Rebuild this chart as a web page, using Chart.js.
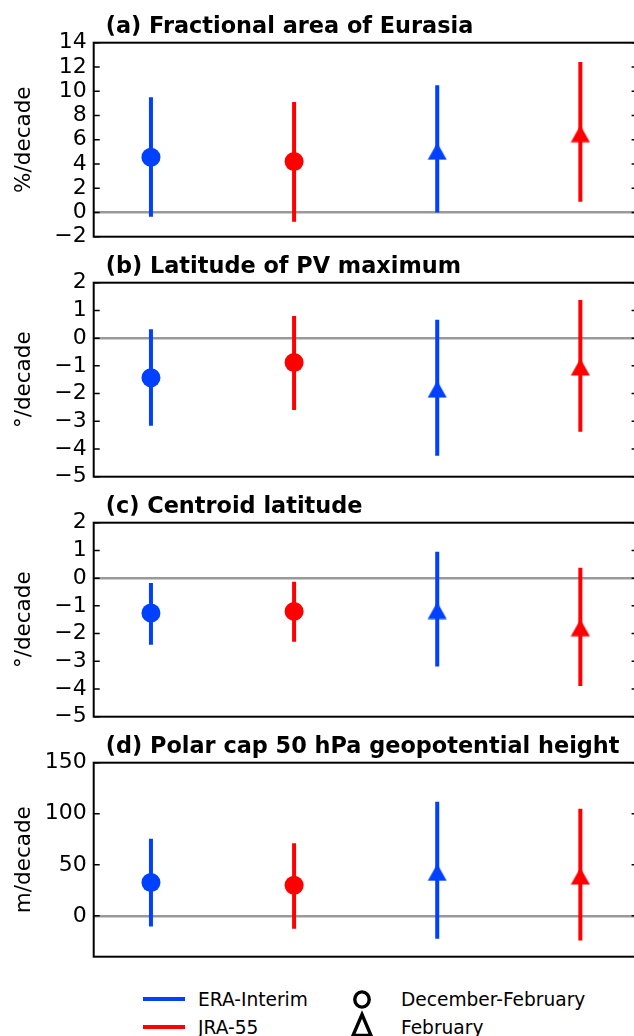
<!DOCTYPE html>
<html>
<head>
<meta charset="utf-8">
<script src="https://cdn.jsdelivr.net/npm/chart.js@4.4.1/dist/chart.umd.min.js"></script>
<style>
html,body{margin:0;padding:0;background:#fff;}
body{width:634px;height:1036px;overflow:hidden;position:relative;font-family:"DejaVu Sans",sans-serif;}
.panel{position:absolute;left:0;width:640px;height:262px;}
.lg{position:absolute;font-size:18.6px;line-height:18.6px;color:#000;white-space:nowrap;}
.sw{position:absolute;height:4px;}
svg{position:absolute;overflow:visible;}
</style>
</head>
<body>
<div class="panel" style="top:0px"><canvas id="c0" width="640" height="262"></canvas></div>
<div class="panel" style="top:240px"><canvas id="c1" width="640" height="262"></canvas></div>
<div class="panel" style="top:480px"><canvas id="c2" width="640" height="262"></canvas></div>
<div class="panel" style="top:720px"><canvas id="c3" width="640" height="262"></canvas></div>
<div id="legend"></div>
<script>
// ---- data ----
const categories = ['ERA-Interim DJF', 'JRA-55 DJF', 'ERA-Interim Feb', 'JRA-55 Feb'];
const seriesNames = ['ERA-Interim', 'JRA-55'];
const periodNames = ['December-February', 'February'];
const panelTitles = ['(a) Fractional area of Eurasia', '(b) Latitude of PV maximum', '(c) Centroid latitude', '(d) Polar cap 50 hPa geopotential height'];
const yLabels = ['%/decade', '\u00B0/decade', '\u00B0/decade', 'm/decade'];

const areaTrend = [4.55, 4.2, 5.05, 6.5];
const areaLow   = [-0.35, -0.77, 0.0, 0.88];
const areaHigh  = [9.5, 9.1, 10.5, 12.4];
const areaTicks = [-2, 0, 2, 4, 6, 8, 10, 12, 14];

const pvLatTrend = [-1.43, -0.88, -1.84, -1.04];
const pvLatLow   = [-3.16, -2.59, -4.24, -3.38];
const pvLatHigh  = [0.32, 0.80, 0.66, 1.38];
const pvLatTicks = [-5, -4, -3, -2, -1, 0, 1, 2];

const centroidTrend = [-1.26, -1.2, -1.17, -1.79];
const centroidLow   = [-2.40, -2.30, -3.19, -3.89];
const centroidHigh  = [-0.18, -0.13, 0.95, 0.37];
const centroidTicks = [-5, -4, -3, -2, -1, 0, 1, 2];

const heightTrend = [32.6, 30.0, 42.6, 39.0];
const heightLow   = [-10.4, -12.7, -22.5, -24.2];
const heightHigh  = [75.4, 71.2, 111.7, 104.8];
const heightTicks = [0, 50, 100, 150];

const yMin = [-2, -5, -5, -40];
const yMax = [14, 2, 2, 150];

// ---- styles ----
const BLUE = '#0040ff', RED = '#ff0000';
const pointColors = [BLUE, RED, BLUE, RED];
const markerKind = ['circle', 'circle', 'triangle', 'triangle'];

function triCanvas(color) {
  const c = document.createElement('canvas');
  c.width = 20; c.height = 18;
  const g = c.getContext('2d');
  g.fillStyle = color;
  g.beginPath();
  g.moveTo(10, 0.5); g.lineTo(19.5, 17.5); g.lineTo(0.5, 17.5); g.closePath();
  g.fill();
  return c;
}
const triBlue = triCanvas(BLUE), triRed = triCanvas(RED);

Chart.defaults.font.family = '"DejaVu Sans", sans-serif';
Chart.defaults.color = '#000';

const framePlugin = {
  id: 'frame',
  afterDraw(chart, args, opts) {
    const {ctx, chartArea: {left, top, right, bottom}} = chart;
    const y = chart.scales.y;
    ctx.save();
    ctx.strokeStyle = '#000';
    ctx.lineWidth = 1.5;
    ctx.beginPath();
    y.ticks.forEach(t => {
      const py = y.getPixelForValue(t.value);
      ctx.moveTo(left, py); ctx.lineTo(left + 6, py);
      ctx.moveTo(right, py); ctx.lineTo(right - 6, py);
    });
    ctx.stroke();
    ctx.lineWidth = 2;
    ctx.strokeRect(left, top, right - left, bottom - top);
    ctx.font = 'bold 22.4px "DejaVu Sans"';
    ctx.fillStyle = '#000';
    ctx.textAlign = 'left';
    ctx.textBaseline = 'alphabetic';
    ctx.fillText(opts.text, left + 12, top - 9.4);
    ctx.restore();
  }
};

const panels = [
  [areaTrend, areaLow, areaHigh, areaTicks],
  [pvLatTrend, pvLatLow, pvLatHigh, pvLatTicks],
  [centroidTrend, centroidLow, centroidHigh, centroidTicks],
  [heightTrend, heightLow, heightHigh, heightTicks]
];

panels.forEach((p, k) => {
  const [trend, low, high, ticks] = p;
  const datasets = [];
  categories.forEach((cat, i) => {
    datasets.push({
      type: 'line', label: cat + ' range',
      data: [{x: i, y: low[i]}, {x: i, y: high[i]}],
      borderColor: pointColors[i], borderWidth: 4, borderCapStyle: 'butt',
      pointRadius: 0, showLine: true, fill: false, order: 1
    });
  });
  datasets.push({
    type: 'scatter', label: 'trend',
    data: trend.map((v, i) => ({x: i, y: v})),
    pointStyle: markerKind.map((m, i) => m === 'circle' ? 'circle' : (pointColors[i] === BLUE ? triBlue : triRed)),
    pointRadius: markerKind.map(m => m === 'circle' ? 9.5 : 9),
    backgroundColor: pointColors, borderWidth: 0, order: 0
  });
  new Chart(document.getElementById('c' + k), {
    type: 'scatter',
    data: {datasets},
    plugins: [framePlugin],
    options: {
      responsive: false, animation: false, events: [],
      layout: {autoPadding: false, padding: {left: 0, top: 42.7, right: 2.4, bottom: 25.3}},
      plugins: {legend: {display: false}, tooltip: {enabled: false}, title: {display: false}, frame: {text: panelTitles[k]}},
      scales: {
        x: {type: 'linear', min: -0.4, max: 3.4, display: false},
        y: {
          type: 'linear', min: yMin[k], max: yMax[k],
          afterBuildTicks: s => { s.ticks = ticks.map(v => ({value: v})); },
          afterFit: s => { s.width = 93.7; },
          ticks: {
            autoSkip: false, font: {size: 22}, color: '#000', padding: 7,
            callback: v => (v < 0 ? '\u2212' + Math.abs(v) : String(v))
          },
          grid: {
            drawTicks: false,
            color: c => (c.tick && c.tick.value === 0 ? '#999999' : 'rgba(0,0,0,0)'),
            lineWidth: 2.4
          },
          border: {display: false},
          title: {display: true, text: yLabels[k], font: {size: 21.5}, color: '#000', padding: {top: 12, bottom: 0}}
        }
      }
    }
  });
});

// ---- legend ----
const lg = document.getElementById('legend');
const rowY = [999, 1027];
seriesNames.forEach((name, i) => {
  const sw = document.createElement('div');
  sw.className = 'sw';
  sw.style.cssText = `left:143.3px;top:${rowY[i] - 2}px;width:41.7px;background:${i === 0 ? BLUE : RED}`;
  lg.appendChild(sw);
  const t = document.createElement('div');
  t.className = 'lg';
  t.textContent = name;
  t.style.left = '198px';
  t.style.top = (rowY[i] + 7.5 - 15.7) + 'px';
  lg.appendChild(t);
});
periodNames.forEach((name, i) => {
  const ns = 'http://www.w3.org/2000/svg';
  const s = document.createElementNS(ns, 'svg');
  s.setAttribute('width', '24'); s.setAttribute('height', '24');
  s.style.left = (362 - 12) + 'px';
  s.style.top = (rowY[i] - 12) + 'px';
  let shp;
  if (i === 0) {
    shp = document.createElementNS(ns, 'ellipse');
    shp.setAttribute('cx', '12'); shp.setAttribute('cy', '12.5');
    shp.setAttribute('rx', '7.2'); shp.setAttribute('ry', '7.6');
  } else {
    shp = document.createElementNS(ns, 'polygon');
    shp.setAttribute('points', '12,-0.5 21,20.5 3,20.5');
  }
  shp.setAttribute('fill', 'none'); shp.setAttribute('stroke', '#000'); shp.setAttribute('stroke-width', '3.4');
  s.appendChild(shp);
  lg.appendChild(s);
  const t = document.createElement('div');
  t.className = 'lg';
  t.textContent = name;
  t.style.left = '401px';
  t.style.top = (rowY[i] + 7.5 - 15.7) + 'px';
  lg.appendChild(t);
});
</script>
</body>
</html>
